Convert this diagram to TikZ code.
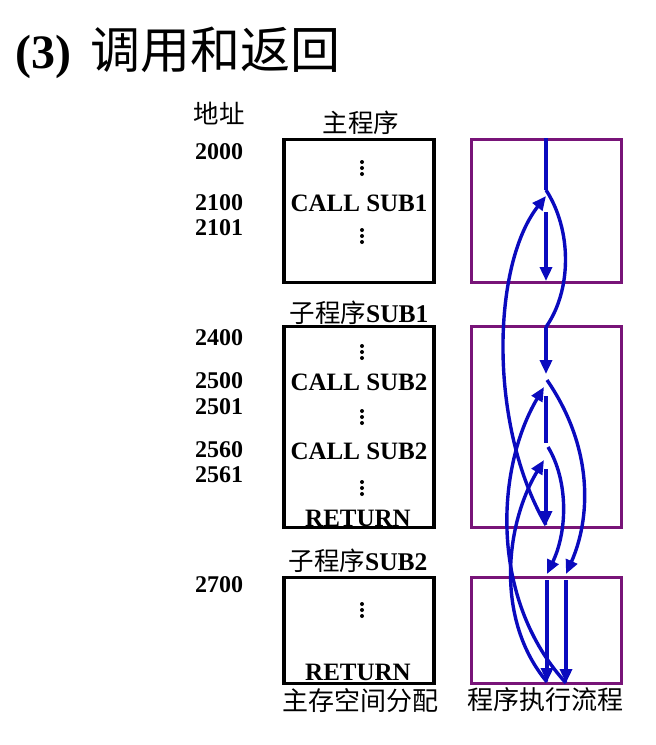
\documentclass[tikz,border=0pt]{standalone}
\usepackage{fontspec}
\setmainfont{Liberation Serif}
\newfontfamily\cjk{Noto Sans CJK SC}
\usetikzlibrary{arrows.meta}
\definecolor{fpurple}{RGB}{120,20,120}
\definecolor{fblue}{RGB}{10,10,190}
\tikzset{
  addr/.style={font=\bfseries\fontsize{24}{24}\selectfont, anchor=base, inner sep=0pt},
  code/.style={font=\bfseries\fontsize{25}{25}\selectfont, anchor=base, inner sep=0pt},
  lab/.style={font=\fontsize{25.5}{25.5}\selectfont, anchor=base, inner sep=0pt},
  mem/.style={draw=black, line width=3.5pt, inner sep=0pt, minimum width=150pt},
  flowbox/.style={draw=fpurple, line width=3pt, inner sep=0pt, minimum width=150pt},
  flow/.style={draw=fblue, line width=3.4pt, -{Triangle[length=14pt,width=12pt]}},
  plainflow/.style={draw=fblue, line width=3.4pt},
  vdotsmark/.pic={\foreach \k in {-6,0,6} \fill[black] (0,\k) circle (2pt);},
}
\begin{document}
\begin{tikzpicture}[x=1pt,y=-1pt]
\useasboundingbox (0,0) rectangle (656,745);
% title
\node[anchor=base west, inner sep=0pt, font=\bfseries\fontsize{48}{48}\selectfont] (t3) at (15,68) {(3)};
\node[anchor=base west, inner sep=0pt, font=\cjk\fontsize{50}{50}\selectfont] (tc) at (90,68) {调用和返回};
% header labels
\node[lab, font=\cjk\fontsize{25.5}{25.5}\selectfont] (haddr) at (219,123) {地址};
\node[lab, font=\cjk\fontsize{25.5}{25.5}\selectfont] (hmain) at (361,132) {主程序};
\node[lab] (hsub1) at (359,322) {{\cjk 子程序}\textbf{SUB1}};
\node[lab] (hsub2) at (358,570) {{\cjk 子程序}\textbf{SUB2}};
\node[lab, font=\cjk\fontsize{26}{26}\selectfont] (hmem) at (360,710) {主存空间分配};
\node[lab, font=\cjk\fontsize{26}{26}\selectfont] (hflow) at (545,709) {程序执行流程};
% addresses
\node[addr] (a2000) at (219,159) {2000};
\node[addr] (a2100) at (219,210) {2100};
\node[addr] (a2101) at (219,235) {2101};
\node[addr] (a2400) at (219,345) {2400};
\node[addr] (a2500) at (219,388) {2500};
\node[addr] (a2501) at (219,414) {2501};
\node[addr] (a2560) at (219,457) {2560};
\node[addr] (a2561) at (219,482) {2561};
\node[addr] (a2700) at (219,592) {2700};
% memory boxes
\node[mem, minimum height=143pt] (mb1) at (359,211) {};
\node[mem, minimum height=201pt] (mb2) at (359,427) {};
\node[mem, minimum height=106pt] (mb3) at (359,630.5) {};
% memory contents
\pic at (362,168) {vdotsmark};
\node[code] (call1) at (359,211) {CALL SUB1};
\pic at (362,236) {vdotsmark};
\pic at (362,352) {vdotsmark};
\node[code] (call2) at (359,390) {CALL SUB2};
\pic at (362,417) {vdotsmark};
\node[code] (call3) at (359,459) {CALL SUB2};
\pic at (362,488) {vdotsmark};
\node[code] (ret1) at (358,526) {RETURN};
\pic at (362,610) {vdotsmark};
\node[code] (ret2) at (358,680) {RETURN};
% flow boxes
\node[flowbox, minimum height=143pt] (fb1) at (546.5,211) {};
\node[flowbox, minimum height=201pt] (fb2) at (546.5,427) {};
\node[flowbox, minimum height=106pt] (fb3) at (546.5,630.5) {};
% flow coordinates
\coordinate (f0) at (546,138);
\coordinate (f1) at (546,190);
\coordinate (r1) at (546,196);
\coordinate (m1) at (546,212);
\coordinate (m1e) at (546,281);
\coordinate (s1) at (546,327);
\coordinate (s1e) at (546,374);
\coordinate (c2) at (547,380);
\coordinate (r2) at (544,387);
\coordinate (m2) at (546,396);
\coordinate (m2e) at (546,443);
\coordinate (c3) at (548,447);
\coordinate (r3) at (544,460);
\coordinate (m3) at (546,469);
\coordinate (m3e) at (546,525);
\coordinate (e2) at (547,574);
\coordinate (e1) at (566,574);
\coordinate (e2b) at (547,580);
\coordinate (e1b) at (566,580);
\coordinate (e2e) at (547,682);
\coordinate (e1e) at (566,683);
% flow lines
\draw[plainflow] (f0) -- (f1);
\draw[plainflow] (f1) .. controls (572,230) and (572,290) .. (s1);
\draw[flow] (s1) -- (s1e);
\draw[flow] (c2) .. controls (595,450) and (590,520) .. (e1);
\draw[flow] (e1b) -- (e1e);
\draw[flow] (e1e) .. controls (490,600) and (495,470) .. (r2);
\draw[plainflow] (m2) -- (m2e);
\draw[flow] (c3) .. controls (568,480) and (568,530) .. (e2);
\draw[flow] (e2b) -- (e2e);
\draw[flow] (e2e) .. controls (495,620) and (505,525) .. (r3);
\draw[flow] (m3) -- (m3e);
\draw[flow] (m3e) .. controls (488,425) and (492,265) .. (r1);
\draw[flow] (m1) -- (m1e);
\end{tikzpicture}
\end{document}
